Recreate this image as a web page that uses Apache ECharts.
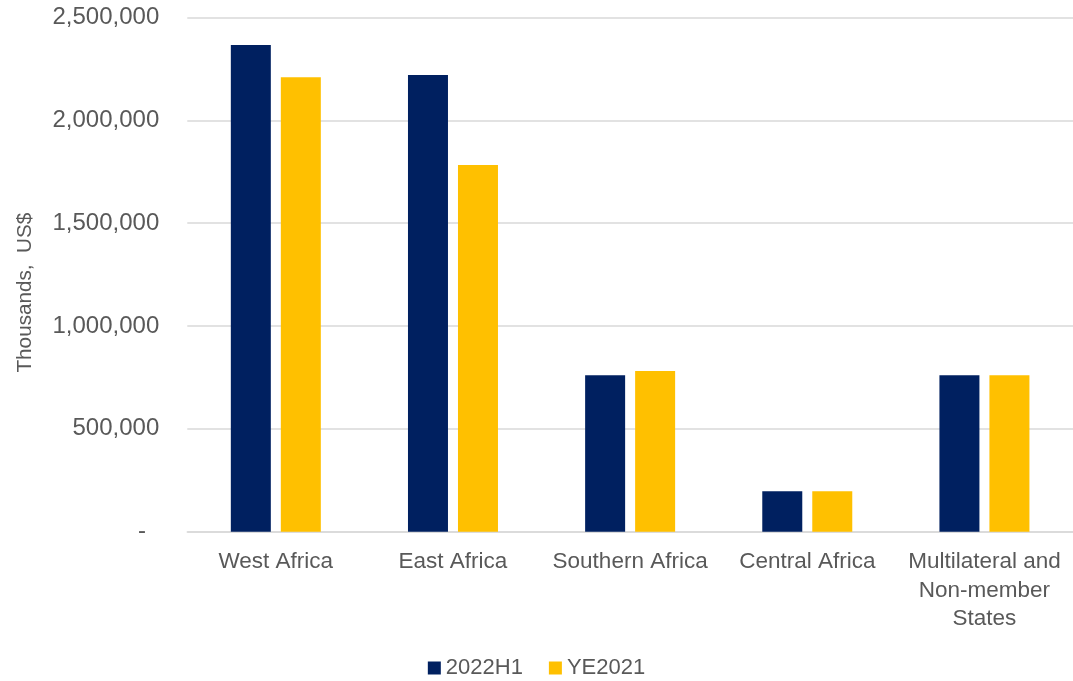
<!DOCTYPE html>
<html>
<head>
<meta charset="utf-8">
<script src="https://cdn.jsdelivr.net/npm/echarts@6/dist/echarts.min.js"></script>
<style>
html,body{margin:0;padding:0;background:#fff;overflow:hidden;}
#chart{width:1073px;height:681px;}
</style>
</head>
<body>
<div id="chart"></div>
<script>
var categories = ['West Africa', 'East Africa', 'Southern Africa', 'Central Africa', 'Multilateral and\nNon-member\nStates'];
var series2022H1 = [2366000, 2220000, 761000, 197000, 761000];
var seriesYE2021 = [2210000, 1783000, 781000, 197000, 761000];
var seriesNames = ['2022H1', 'YE2021'];
var yTicks = [0, 500000, 1000000, 1500000, 2000000, 2500000];

var FONT = '"Liberation Sans", Arial, sans-serif';
var chart = echarts.init(document.getElementById('chart'));
chart.setOption({
  animation: false,
  backgroundColor: '#ffffff',
  grid: {left: 187.25, right: -1.75, top: 17.5, bottom: 149.3, containLabel: false},
  legend: {
    bottom: -3,
    left: 'center',
    itemWidth: 13,
    itemHeight: 13,
    itemGap: 26,
    icon: 'rect',
    textStyle: {fontFamily: FONT, fontSize: 22, color: '#595959'},
    data: seriesNames
  },
  xAxis: {
    type: 'category',
    data: categories,
    axisLine: {show: true, lineStyle: {color: '#d9d9d9', width: 1.5}},
    axisTick: {show: false},
    axisLabel: {fontFamily: FONT, fontSize: 22.5, color: '#595959', margin: 16, lineHeight: 28.5, interval: 0}
  },
  yAxis: {
    type: 'value',
    min: yTicks[0],
    max: yTicks[yTicks.length - 1],
    interval: 500000,
    name: 'Thousands,  US$',
    nameLocation: 'middle',
    nameGap: 151,
    nameTextStyle: {fontFamily: FONT, fontSize: 20.7, color: '#595959', padding: [0, 36, 0, 0]},
    axisLine: {show: false},
    axisTick: {show: false},
    splitLine: {lineStyle: {color: '#d9d9d9', width: 1.5}},
    axisLabel: {
      fontFamily: FONT, fontSize: 24, color: '#595959', margin: 28,
      formatter: function (v) {
        if (v === 0) return '-  ';
        return v.toString().replace(/\B(?=(\d{3})+(?!\d))/g, ',');
      }
    }
  },
  series: [
    {name: seriesNames[0], type: 'bar', data: series2022H1, barWidth: 40, barGap: '25%', itemStyle: {color: '#002060'}},
    {name: seriesNames[1], type: 'bar', data: seriesYE2021, barWidth: 40, barGap: '25%', itemStyle: {color: '#FFC000'}}
  ]
});
</script>
</body>
</html>
